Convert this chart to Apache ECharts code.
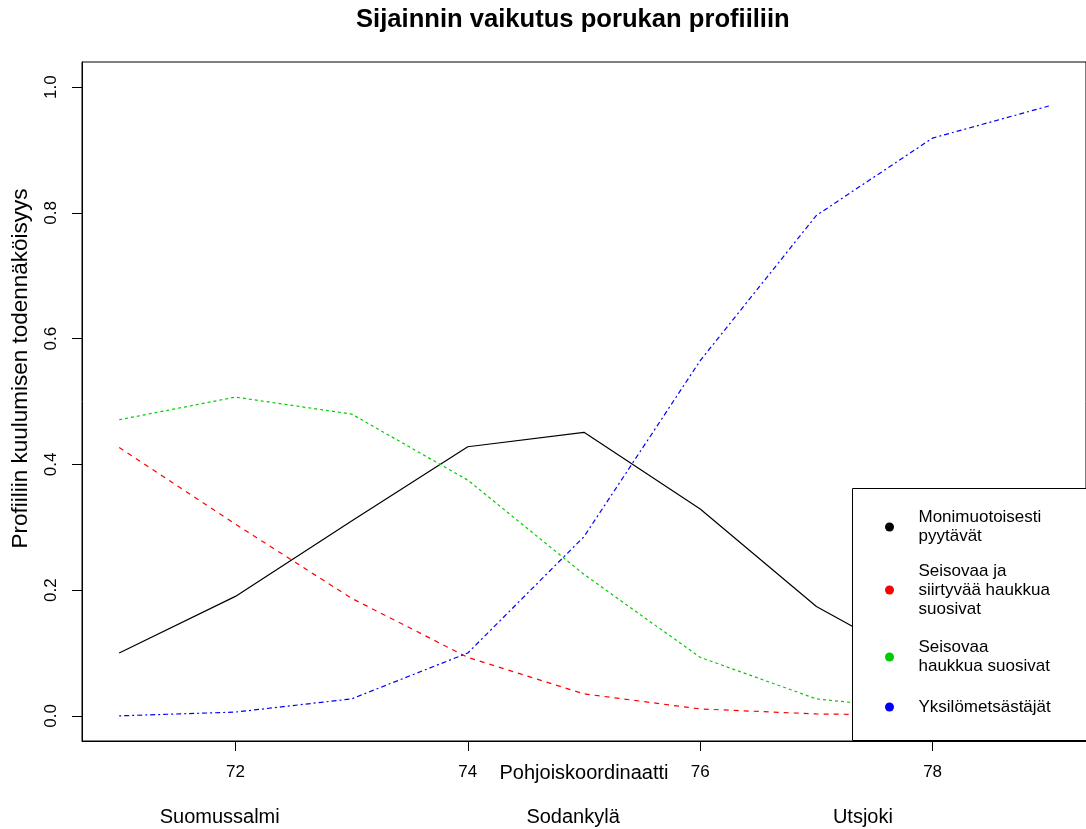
<!DOCTYPE html>
<html>
<head>
<meta charset="utf-8">
<script src="https://cdn.jsdelivr.net/npm/echarts@6/dist/echarts.min.js"></script>
<style>html,body{margin:0;padding:0;background:#fff;}#c{width:1086px;height:829px;}</style>
</head>
<body>
<div id="c"></div>
<script>
// ---- data ----
const xValues = [71, 72, 73, 74, 75, 76, 77, 78, 79];
const seriesNames = [
  'Monimuotoisesti\npyytävät',
  'Seisovaa ja\nsiirtyvää haukkua\nsuosivat',
  'Seisovaa\nhaukkua suosivat',
  'Yksilömetsästäjät'
];
const monimuotoisesti = [0.100, 0.190, 0.310, 0.428, 0.451, 0.329, 0.174, 0.072, 0.027];
const seisovaaJaSiirtyvaa = [0.427, 0.305, 0.187, 0.093, 0.035, 0.011, 0.003, 0.001, 0.000];
const seisovaa = [0.471, 0.507, 0.480, 0.375, 0.225, 0.093, 0.027, 0.008, 0.003];
const yksilometsastajat = [0.000, 0.006, 0.027, 0.100, 0.285, 0.565, 0.796, 0.919, 0.970];
const xTicks = [72, 74, 76, 78];
const yTicks = [0, 0.2, 0.4, 0.6, 0.8, 1.0];
const placeNames = ['Suomussalmi', 'Sodankylä', 'Utsjoki'];
const placePositions = [71.865, 74.906, 77.40];

const FONT = '"Liberation Sans", Arial, sans-serif';
const colors = ['#000000', '#ff0000', '#00cd00', '#0000ff'];
const dashes = ['solid', [5, 5], [3, 3], [2, 3, 5, 3]];
const allValues = [monimuotoisesti, seisovaaJaSiirtyvaa, seisovaa, yksilometsastajat];

function pairs(vals) { return xValues.map((x, i) => [x, vals[i]]); }

const legendCenters = [527, 590, 657, 707];
const legendLines = [2, 3, 2, 1];
const LH = 19;

const chart = echarts.init(document.getElementById('c'), null, {renderer: 'canvas'});
chart.setOption({
  animation: false,
  backgroundColor: '#ffffff',
  title: {
    text: 'Sijainnin vaikutus porukan profiiliin',
    left: 356, top: 7, padding: 0,
    textStyle: {fontFamily: FONT, fontWeight: 'bold', fontSize: 25.6, color: '#000'}
  },
  grid: {
    left: 82, top: 62, right: -4, bottom: 88,
    show: true, borderColor: '#000', borderWidth: 1, backgroundColor: 'transparent'
  },
  xAxis: [{
    type: 'value', min: 70.68, max: 79.32,
    name: 'Pohjoiskoordinaatti', nameLocation: 'middle', nameGap: 22, nameMoveOverlap: false,
    nameTextStyle: {fontFamily: FONT, fontSize: 20, color: '#000'},
    splitLine: {show: false},
    axisLine: {show: true, onZero: false, lineStyle: {color: '#000', width: 1}},
    axisTick: {show: true, length: 10, customValues: xTicks, lineStyle: {color: '#000'}},
    axisLabel: {customValues: xTicks, margin: 23, fontFamily: FONT, fontSize: 17, color: '#000'}
  }, {
    type: 'value', min: 70.68, max: 79.32, position: 'bottom',
    splitLine: {show: false}, axisLine: {show: false}, axisTick: {show: false},
    axisLabel: {
      customValues: placePositions, margin: 66, fontFamily: FONT, fontSize: 20, color: '#000',
      formatter: v => { const i = placePositions.findIndex(p => Math.abs(p - v) < 1e-6); return i >= 0 ? placeNames[i] : ''; }
    }
  }],
  yAxis: {
    type: 'value', min: -0.04, max: 1.04,
    name: 'Profiiliin kuulumisen todennäköisyys', nameLocation: 'middle', nameGap: 50, nameMoveOverlap: false,
    nameTextStyle: {fontFamily: FONT, fontSize: 22.5, color: '#000', padding: [0, 0, 0, 66]},
    splitLine: {show: false},
    axisLine: {show: true, onZero: false, lineStyle: {color: '#000', width: 1}},
    axisTick: {show: true, length: 10, customValues: yTicks, lineStyle: {color: '#000'}},
    axisLabel: {customValues: yTicks, rotate: 90, margin: 22, fontFamily: FONT, fontSize: 17, color: '#000',
      formatter: v => v.toFixed(1)}
  },
  legend: seriesNames.map((n, i) => ({
    data: [{name: n, icon: 'circle', itemStyle: {color: colors[i]}}],
    left: 885, top: legendCenters[i] - legendLines[i] * LH / 2,
    orient: 'vertical', padding: 0, itemWidth: 48, itemHeight: 9, itemGap: 0,
    z: 100, selectedMode: false,
    textStyle: {fontFamily: FONT, fontSize: 17, lineHeight: LH, color: '#000'}
  })),
  graphic: [{
    type: 'rect', z: 50,
    shape: {x: 852.5, y: 488.5, width: 260, height: 252},
    style: {fill: '#ffffff', stroke: '#000', lineWidth: 1}
  }],
  series: seriesNames.map((n, i) => ({
    name: n, type: 'line', xAxisIndex: 0, symbol: 'none', z: 2,
    data: pairs(allValues[i]),
    lineStyle: {color: colors[i], width: 1.2, type: dashes[i]},
    itemStyle: {color: colors[i]}
  }))
});
</script>
</body>
</html>
